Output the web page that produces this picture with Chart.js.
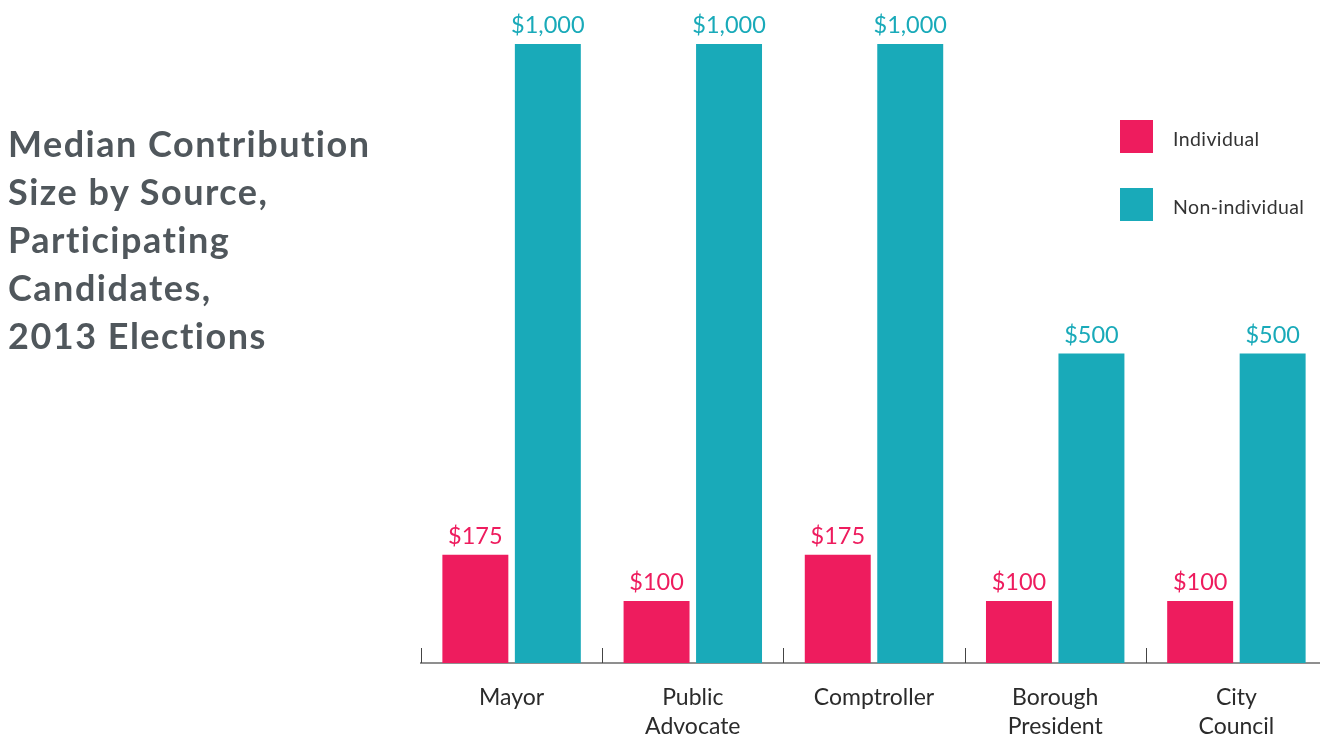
<!DOCTYPE html>
<html>
<head>
<meta charset="utf-8">
<script src="https://cdn.jsdelivr.net/npm/chart.js@4.4.1/dist/chart.umd.min.js"></script>
<style>
  html, body { margin:0; padding:0; background:#fff; overflow:hidden; width:1320px; height:738px; }
  #wrap { position:absolute; left:0; top:0; width:1328px; height:738px; }
  #title { position:absolute; left:8px; top:119px; font-family:Lato, sans-serif; font-weight:700;
           font-size:36px; letter-spacing:1.5px; line-height:48px; color:#50575c; white-space:nowrap; }
  #legend { position:absolute; left:1120px; top:120px; font-family:Lato, sans-serif; font-size:19.5px; letter-spacing:0.4px; color:#333; }
  .li { position:absolute; left:0; height:33px; display:flex; align-items:center; white-space:nowrap; }
  .li span.t { padding-top:3px; }
  .sw { width:33px; height:33px; margin-right:20px; flex:none; }
</style>
</head>
<body>
<div id="wrap"><canvas id="c" width="1328" height="738"></canvas></div>
<div id="title">Median Contribution<br>Size by Source,<br>Participating<br>Candidates,<br>2013 Elections</div>
<div id="legend"></div>
<script>
const categories = [["Mayor"], ["Public", "Advocate"], ["Comptroller"], ["Borough", "President"], ["City", "Council"]];
const seriesNames = ["Individual", "Non-individual"];
const individualValues = [175, 100, 175, 100, 100];
const nonIndividualValues = [1000, 1000, 1000, 500, 500];
const seriesColors = ["#ee1c5e", "#19aab9"];

const valueLabels = {
  id: 'valueLabels',
  afterDatasetsDraw(chart) {
    const ctx = chart.ctx;
    ctx.save();
    ctx.font = '23.5px Lato, sans-serif';
    ctx.textAlign = 'center';
    ctx.textBaseline = 'alphabetic';
    chart.data.datasets.forEach((ds, di) => {
      const meta = chart.getDatasetMeta(di);
      ctx.fillStyle = ds.backgroundColor;
      meta.data.forEach((bar, i) => {
        ctx.fillText('$' + ds.data[i].toLocaleString('en-US'), bar.x, bar.y - 11);
      });
    });
    ctx.restore();
  }
};

const boundaryTicks = {
  id: 'boundaryTicks',
  afterDraw(chart) {
    const xs = chart.scales.x;
    const ctx = chart.ctx;
    const n = chart.data.labels.length;
    const w = (xs.right - xs.left) / n;
    ctx.save();
    ctx.strokeStyle = '#444';
    ctx.lineWidth = 1;
    for (let i = 0; i < n; i++) {
      const x = Math.round(xs.left + i * w) + 0.5;
      ctx.beginPath();
      ctx.moveTo(x, xs.top - 15);
      ctx.lineTo(x, xs.top);
      ctx.stroke();
    }
    ctx.restore();
  }
};

const chart = new Chart(document.getElementById('c'), {
  type: 'bar',
  data: {
    labels: categories,
    datasets: [
      { label: seriesNames[0], data: individualValues, backgroundColor: seriesColors[0] },
      { label: seriesNames[1], data: nonIndividualValues, backgroundColor: seriesColors[1] }
    ]
  },
  plugins: [valueLabels, boundaryTicks],
  options: {
    responsive: false,
    animation: false,
    events: [],
    layout: { padding: { left: 421, top: 44, right: 1, bottom: 0 } },
    categoryPercentage: 0.8,
    barPercentage: 0.91,
    plugins: { legend: { display: false }, tooltip: { enabled: false }, title: { display: false } },
    scales: {
      x: {
        grid: { display: false, drawTicks: false },
        border: { display: true, color: '#8f8f8f', width: 2 },
        ticks: { color: '#2b2b2b', font: { family: 'Lato, sans-serif', size: 23, lineHeight: 1.22 }, padding: 21, maxRotation: 0, autoSkip: false },
        afterFit(s) { s.height = 75; }
      },
      y: {
        display: false,
        min: 0, max: 1000
      }
    }
  }
});

const lg = document.getElementById('legend');
chart.data.datasets.forEach((ds, i) => {
  const d = document.createElement('div');
  d.className = 'li';
  d.style.top = (i * 68) + 'px';
  d.innerHTML = '<span class="sw" style="background:' + ds.backgroundColor + '"></span><span class="t">' + ds.label + '</span>';
  lg.appendChild(d);
});
</script>
</body>
</html>
